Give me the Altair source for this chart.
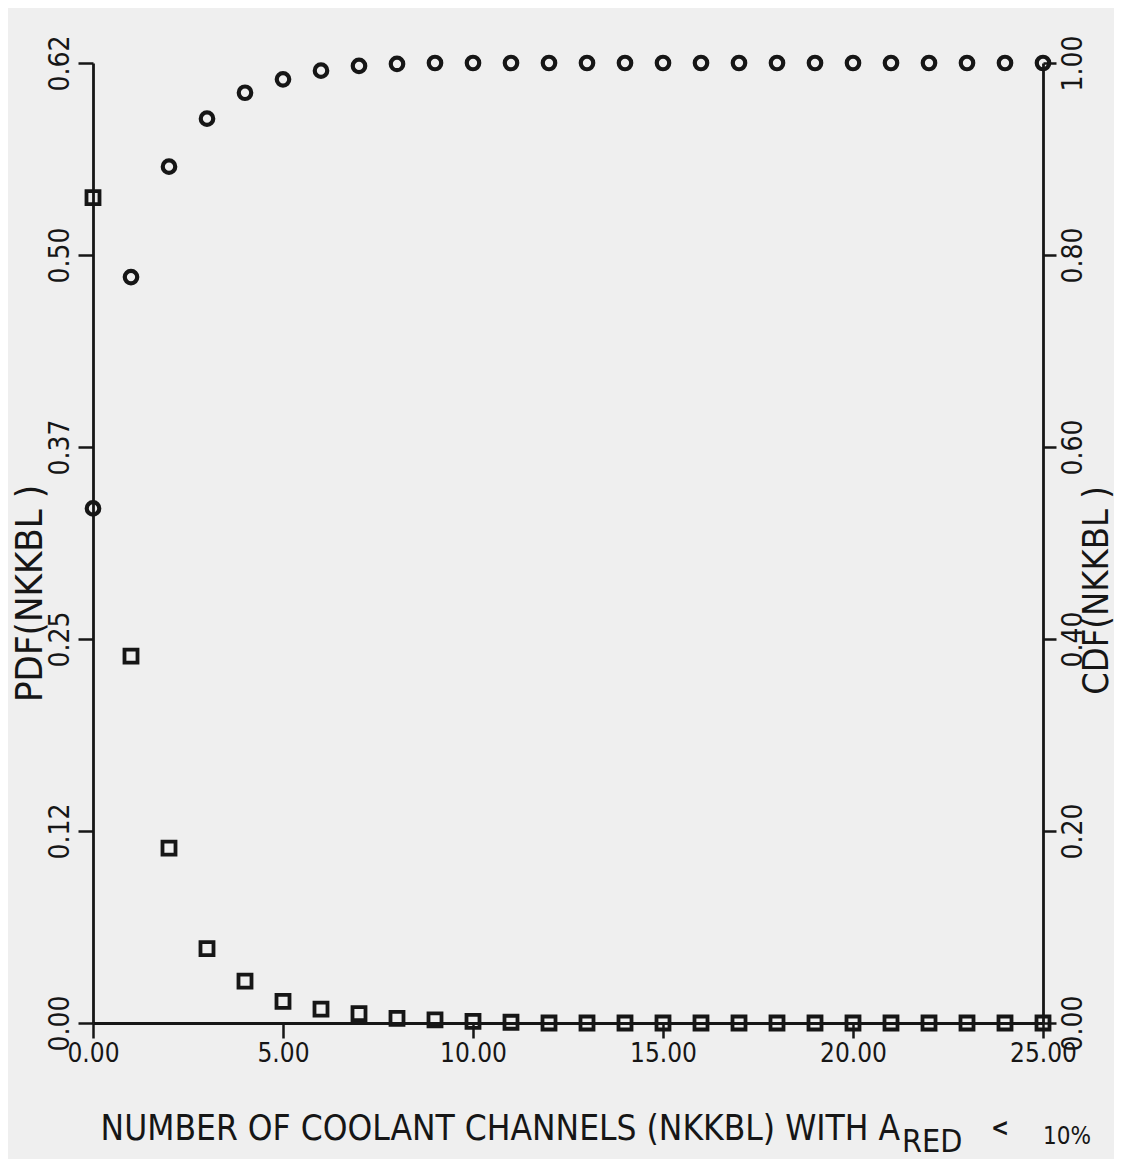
import altair as alt
import pandas as pd

# ---- data ----
n_channels = list(range(26))
pdf_values = [0.533, 0.237, 0.113, 0.048, 0.027, 0.014, 0.009, 0.006, 0.003, 0.002,
              0.001, 0.0005, 0.0, 0.0, 0.0, 0.0, 0.0, 0.0, 0.0, 0.0,
              0.0, 0.0, 0.0, 0.0, 0.0, 0.0]
cdf_values = [0.536, 0.777, 0.892, 0.942, 0.969, 0.983, 0.992, 0.997, 0.999, 1.0,
              1.0, 1.0, 1.0, 1.0, 1.0, 1.0, 1.0, 1.0, 1.0, 1.0,
              1.0, 1.0, 1.0, 1.0, 1.0, 1.0]
x_ticks = [0, 5, 10, 15, 20, 25]
pdf_ticks = [0.0, 0.124, 0.248, 0.372, 0.496, 0.62]
cdf_ticks = [0.0, 0.2, 0.4, 0.6, 0.8, 1.0]

title_main = "NUMBER OF COOLANT CHANNELS (NKKBL) WITH A"
title_sub = "RED"
title_lt = "<"
title_pct = "10%"
pdf_title = "PDF(NKKBL )"
cdf_title = "CDF(NKKBL )"

df = pd.DataFrame({"n": n_channels, "pdf": pdf_values, "cdf": cdf_values})

FONT = "DejaVu Sans Condensed, DejaVu Sans, sans-serif"
INK = "#161616"
BG = "#efefef"

W, H = 950, 960

xscale = alt.Scale(domain=[0, 25], nice=False, zero=False)

xaxis = alt.Axis(
    values=x_ticks, format=".2f", title=None, grid=False,
    tickSize=15, tickWidth=2.5, tickColor=INK,
    domainColor=INK, domainWidth=2.8,
    labelFont=FONT, labelFontSize=26, labelColor=INK,
    labelPadding=2, labelFlush=False, labelOverlap=False,
)

pdf_axis = alt.Axis(
    orient="left", values=pdf_ticks, format=".2f", grid=False,
    tickSize=15, tickWidth=2.5, tickColor=INK,
    domainColor=INK, domainWidth=2.8,
    labelFont=FONT, labelFontSize=28, labelColor=INK,
    labelAngle=270, labelAlign="center", labelBaseline="bottom",
    labelPadding=4, labelOverlap=False, labelFlush=False,
    title=pdf_title, titleFont=FONT, titleFontSize=38, titleFontWeight="normal",
    titleColor=INK, titleAngle=270, titleAlign="center", titleBaseline="middle",
    titleX=-63, titleY=530,
)

cdf_axis = alt.Axis(
    orient="right", values=cdf_ticks, format=".2f", grid=False,
    tickSize=13, tickWidth=2.5, tickColor=INK,
    domainColor=INK, domainWidth=2.8,
    labelFont=FONT, labelFontSize=28, labelColor=INK,
    labelAngle=270, labelAlign="center", labelBaseline="top",
    labelPadding=3, labelOverlap=False, labelFlush=False,
    title=cdf_title, titleFont=FONT, titleFontSize=36, titleFontWeight="normal",
    titleColor=INK, titleAngle=270, titleAlign="center", titleBaseline="middle",
    titleX=53, titleY=527,
)

pdf_layer = alt.Chart(df).mark_point(
    shape="square", filled=False, size=169, strokeWidth=3.8, color=INK, opacity=1
).encode(
    x=alt.X("n:Q", scale=xscale, axis=xaxis),
    y=alt.Y("pdf:Q", scale=alt.Scale(domain=[0, 0.62], nice=False, zero=True), axis=pdf_axis),
)

cdf_layer = alt.Chart(df).mark_point(
    shape="circle", filled=False, size=156, strokeWidth=4.2, color=INK, opacity=1
).encode(
    x=alt.X("n:Q", scale=xscale),
    y=alt.Y("cdf:Q", scale=alt.Scale(domain=[0, 1], nice=False, zero=True), axis=cdf_axis),
)

tdf = pd.DataFrame({"a": [title_main], "b": [title_sub], "c": [title_lt], "d": [title_pct]})

t_main = alt.Chart(tdf).mark_text(
    font=FONT, fontSize=35, color=INK, align="right", baseline="alphabetic"
).encode(text="a:N", x=alt.value(807), y=alt.value(1077))

t_sub = alt.Chart(tdf).mark_text(
    font=FONT, fontSize=32, color=INK, align="left", baseline="alphabetic"
).encode(text="b:N", x=alt.value(809), y=alt.value(1089))

t_lt = alt.Chart(tdf).mark_text(
    font=FONT, fontSize=24, fontWeight="bold", color=INK, align="center", baseline="alphabetic"
).encode(text="c:N", x=alt.value(907), y=alt.value(1073))

t_pct = alt.Chart(tdf).mark_text(
    font=FONT, fontSize=24, color=INK, align="left", baseline="alphabetic"
).encode(text="d:N", x=alt.value(950), y=alt.value(1081))

chart = alt.layer(pdf_layer, cdf_layer, t_main, t_sub, t_lt, t_pct).resolve_scale(
    y="independent"
).properties(
    width=W, height=H,
    autosize=alt.AutoSizeParams(type="none"),
    padding={"left": 85, "top": 55, "right": 71, "bottom": 136},
    background=BG,
).configure_view(stroke=None)

chart.save("out.html", embed_options={"renderer": "svg", "actions": False})
